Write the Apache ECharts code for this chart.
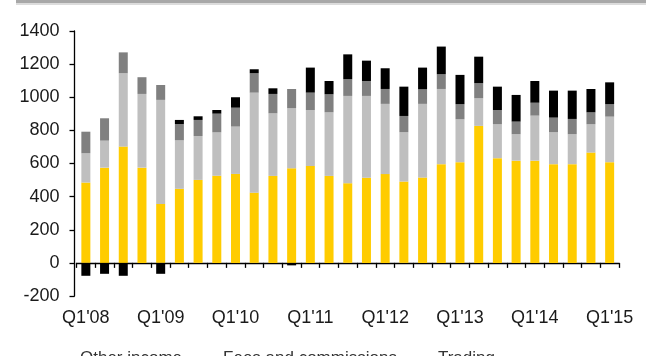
<!DOCTYPE html>
<html>
<head>
<meta charset="utf-8">
<script src="https://cdn.jsdelivr.net/npm/echarts@6/dist/echarts.min.js"></script>
<style>
  html, body { margin: 0; padding: 0; background: #fff; }
  #chart { width: 660px; height: 356px; }
</style>
</head>
<body>
<div id="chart"></div>
<script>
// Quarterly revenue breakdown, Q1'08 - Q1'15
var quarters = [
  "Q1'08", "Q2'08", "Q3'08", "Q4'08",
  "Q1'09", "Q2'09", "Q3'09", "Q4'09",
  "Q1'10", "Q2'10", "Q3'10", "Q4'10",
  "Q1'11", "Q2'11", "Q3'11", "Q4'11",
  "Q1'12", "Q2'12", "Q3'12", "Q4'12",
  "Q1'13", "Q2'13", "Q3'13", "Q4'13",
  "Q1'14", "Q2'14", "Q3'14", "Q4'14",
  "Q1'15"
];

var netInterest = [485, 575, 702, 575, 356, 447, 501, 526, 537, 424, 525, 571, 585, 525, 481,
                   514, 536, 491, 515, 596, 608, 827, 632, 617, 617, 596, 596, 666, 608];
var feesCommissions = [177, 163, 443, 445, 628, 293, 265, 262, 286, 604, 378, 363, 338, 384, 527,
                       494, 424, 298, 445, 454, 259, 167, 205, 160, 272, 193, 181, 171, 275];
var trading = [130, 135, 126, 101, 90, 98, 97, 113, 114, 117, 117, 116, 105, 109, 101,
               90, 90, 98, 88, 89, 91, 91, 86, 76, 78, 88, 92, 72, 75];
var otherIncome = [-78, -66, -78, 0, -66, 25, 22, 22, 63, 24, 34, -15, 151, 80, 150,
                   123, 125, 177, 131, 167, 177, 160, 141, 161, 131, 163, 171, 141, 132];

var yTicks = { min: -200, max: 1400, step: 200 };

var FONT = "'Liberation Sans', Arial, sans-serif";
var TEXT = '#1a1a1a';

function barSeries(name, data, color) {
  return {
    name: name,
    type: 'bar',
    stack: 'total',
    barWidth: 9,
    xAxisIndex: 0,
    data: data,
    itemStyle: { color: color },
    emphasis: { disabled: true }
  };
}

var chart = echarts.init(document.getElementById('chart'), null, { renderer: 'canvas' });

chart.setOption({
  animation: false,
  backgroundColor: '#ffffff',
  textStyle: { fontFamily: FONT },
  grid: { left: 76.5, right: 41, top: 31, bottom: 60, containLabel: false },
  graphic: [
    { type: 'rect', left: 16, top: 0, shape: { width: 630, height: 3 }, style: { fill: '#a8a8a8' }, silent: true },
    { type: 'rect', left: 16, top: 3, shape: { width: 630, height: 2 }, style: { fill: '#dcdcdc' }, silent: true }
  ],
  legend: {
    top: 345,
    left: 64,
    icon: 'rect',
    itemWidth: 6,
    itemHeight: 4,
    itemGap: 30,
    textStyle: { fontFamily: FONT, fontSize: 17, color: '#333' },
    data: ['Other income', 'Fees and commissions', 'Trading', 'Net interest income']
  },
  xAxis: [
    {
      type: 'category',
      data: quarters,
      axisLine: { onZero: true, lineStyle: { color: '#000', width: 1.3 } },
      axisTick: { show: true, interval: 0, length: 5, inside: false, lineStyle: { color: '#000', width: 1.3 } },
      axisLabel: { show: false },
      splitLine: { show: false }
    },
    {
      type: 'category',
      data: quarters,
      position: 'bottom',
      axisLine: { show: false, onZero: false },
      axisTick: { show: false },
      axisLabel: {
        interval: 3,
        margin: 13,
        fontFamily: FONT,
        fontSize: 18,
        color: TEXT
      },
      splitLine: { show: false }
    }
  ],
  yAxis: {
    type: 'value',
    min: yTicks.min,
    max: yTicks.max,
    interval: yTicks.step,
    offset: 2,
    axisLine: { show: true, lineStyle: { color: '#000', width: 1.3 } },
    axisTick: { show: true, length: 5, lineStyle: { color: '#000', width: 1.3 } },
    axisLabel: {
      margin: 15,
      fontFamily: FONT,
      fontSize: 18,
      color: TEXT,
      formatter: function (v) { return String(v); }
    },
    splitLine: { show: false }
  },
  series: [
    barSeries('Net interest income', netInterest, '#ffcc00'),
    barSeries('Fees and commissions', feesCommissions, '#bfbfbf'),
    barSeries('Trading', trading, '#808080'),
    barSeries('Other income', otherIncome, '#000000')
  ]
});
</script>
</body>
</html>
